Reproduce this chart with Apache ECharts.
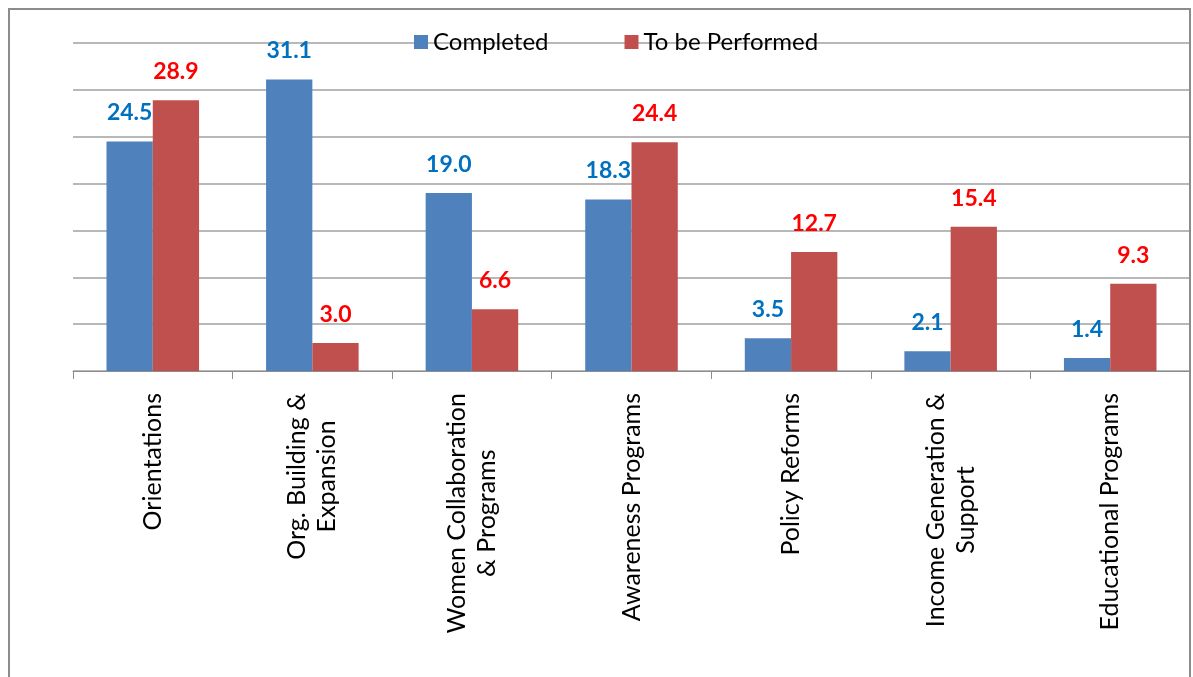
<!DOCTYPE html>
<html>
<head>
<meta charset="utf-8">
<script src="https://cdn.jsdelivr.net/npm/echarts@6/dist/echarts.min.js"></script>
<style>
html,body{margin:0;padding:0;background:#fff;}
#chart{width:1193px;height:677px;}
</style>
</head>
<body>
<div id="chart"></div>
<script>
var categories = [
  "Orientations",
  "Org. Building &\nExpansion",
  "Women Collaboration\n& Programs",
  "Awareness Programs",
  "Policy Reforms",
  "Income Generation &\nSupport",
  "Educational Programs"
];
var completed = [24.5, 31.1, 19.0, 18.3, 3.5, 2.1, 1.4];
var toBePerformed = [28.9, 3.0, 6.6, 24.4, 12.7, 15.4, 9.3];
var seriesNames = ["Completed", "To be Performed"];

var FONT = "Lato, 'Open Sans', sans-serif";
var chart = echarts.init(document.getElementById('chart'), null, {renderer: 'canvas'});
chart.setOption({
  animation: false,
  backgroundColor: '#ffffff',
  graphic: [{
    type: 'rect',
    shape: {x: 9, y: 9, width: 1181, height: 690},
    style: {fill: 'none', stroke: '#8c8c8c', lineWidth: 2},
    silent: true,
    z: 100
  }],
  legend: {
    left: 409,
    top: 25,
    itemWidth: 14,
    itemHeight: 14,
    itemGap: 76,
    icon: 'rect',
    textStyle: {fontFamily: FONT, fontSize: 24, color: '#000'},
    data: seriesNames
  },
  grid: {left: 73, right: 3, top: 43, bottom: 306, containLabel: false},
  xAxis: {
    type: 'category',
    data: categories,
    axisLine: {lineStyle: {color: '#8c8c8c', width: 1}},
    axisTick: {show: true, length: 8, interval: 0, lineStyle: {color: '#8c8c8c'}},
    axisLabel: {
      interval: 0,
      rotate: 90,
      margin: 22,
      fontFamily: FONT,
      fontSize: 25,
      color: '#000',
      lineHeight: 30,
      formatter: function (v) {
        return v.split('\n').map(function (l) { return '{c|' + l + '}'; }).join('\n');
      },
      rich: {c: {align: 'center', fontFamily: FONT, fontSize: 25, lineHeight: 30, color: '#000'}}
    }
  },
  yAxis: {
    type: 'value',
    min: 0,
    max: 35,
    interval: 5,
    axisLine: {show: false},
    axisTick: {show: false},
    axisLabel: {show: false},
    splitLine: {lineStyle: {color: '#a0a0a0', width: 1.5}}
  },
  series: [{
    name: seriesNames[0],
    type: 'bar',
    data: completed,
    barGap: '0%',
    barCategoryGap: '42%',
    itemStyle: {color: '#4F81BD'},
    label: {
      show: true,
      position: 'top',
      distance: 17,
      formatter: function (p) { return p.value.toFixed(1); },
      fontFamily: FONT,
      fontWeight: 'bold',
      fontSize: 23,
      color: '#0070C0'
    }
  }, {
    name: seriesNames[1],
    type: 'bar',
    data: toBePerformed,
    barGap: '0%',
    barCategoryGap: '42%',
    itemStyle: {color: '#C0504D'},
    label: {
      show: true,
      position: 'top',
      distance: 17,
      formatter: function (p) { return p.value.toFixed(1); },
      fontFamily: FONT,
      fontWeight: 'bold',
      fontSize: 23,
      color: '#FF0000'
    }
  }]
});
</script>
</body>
</html>
